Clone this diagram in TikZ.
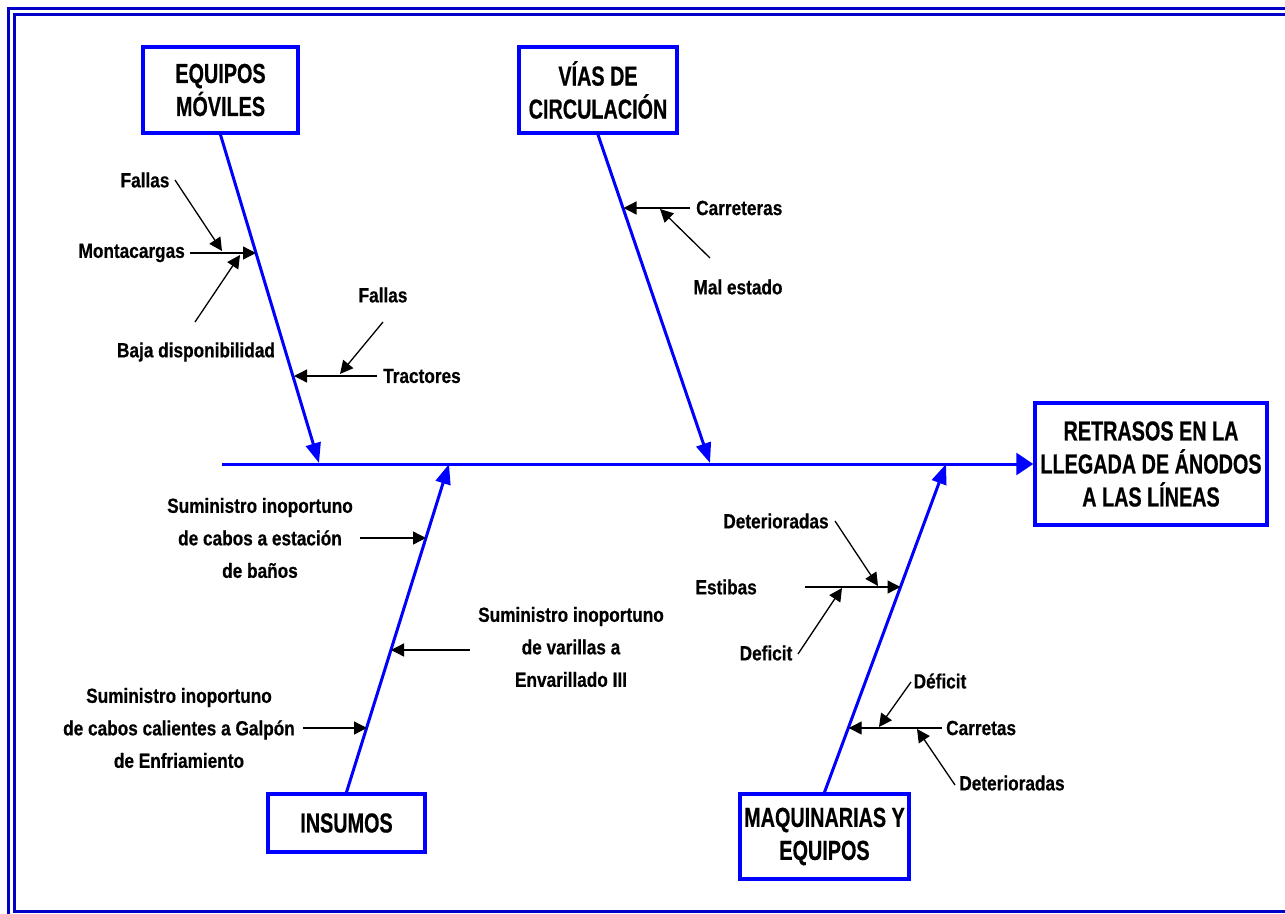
\documentclass[tikz,border=0pt]{standalone}
\usepackage{fontspec}
\setmainfont{Liberation Sans}[FakeStretch=0.84, BoldFeatures={FakeBold=0.5}]
\newfontfamily\ttlfont{Liberation Sans}[FakeStretch=0.72, BoldFeatures={FakeBold=0.5}]
\usetikzlibrary{arrows.meta}
\definecolor{bl}{RGB}{0,0,255}
\definecolor{frm}{RGB}{0,0,200}
\begin{document}
\begin{tikzpicture}[x=1pt,y=-1pt,
 lbl/.style={font=\fontsize{20.5}{32.5}\selectfont\bfseries, align=center, inner sep=0pt},
 ttl/.style={draw=bl, line width=3.5pt, font=\ttlfont\fontsize{27.5}{33}\selectfont\bfseries, align=center, inner sep=0pt},
 bone/.style={draw=bl, line width=3pt, -{Triangle[length=20pt,width=15pt]}},
 spine/.style={draw=bl, line width=3pt, -{Triangle[length=17pt,width=22pt]}},
 sub/.style={draw=black, line width=1.3pt, -{Triangle[length=13pt,width=13pt]}},
 frame/.style={draw=frm, line width=2.5pt},
]
\useasboundingbox (0,0) rectangle (1285,913);
\clip (0,0) rectangle (1285,913);
\draw[frame] (8.5,8.5) rectangle (1300,920);
\draw[frame] (14.5,14.5) rectangle (1292,911.5);

% boxes
\node[ttl, minimum width=155pt, minimum height=86pt] (eq) at (220.5,90) {EQUIPOS\\MÓVILES};
\node[ttl, minimum width=158pt, minimum height=86pt] (vias) at (598,90) {VÍAS DE\\CIRCULACIÓN};
\node[ttl, minimum width=232pt, minimum height=122pt] (ret) at (1151,464) {RETRASOS EN LA\\LLEGADA DE ÁNODOS\\A LAS LÍNEAS};
\node[ttl, minimum width=157pt, minimum height=58pt] (ins) at (346.5,823) {INSUMOS};
\node[ttl, minimum width=169pt, minimum height=85pt] (maq) at (824.5,836.5) {MAQUINARIAS Y\\EQUIPOS};

% spine and bones
\coordinate (s0) at (222,464);
\coordinate (t1) at (319,463);
\coordinate (t2) at (710,463);
\coordinate (t3) at (449,464);
\coordinate (t4) at (946,464);
\draw[spine] (s0) -- (ret.west);
\draw[bone] (eq.south) -- (t1);
\draw[bone] (vias.south) -- (t2);
\draw[bone] (ins.north) -- (t3);
\draw[bone] (maq.north) -- (t4);

% EQUIPOS MOVILES causes
\node[lbl] (fallas1) at (145,180) {Fallas};
\node[lbl, anchor=east] (mont) at (185,253) {Montacargas};
\node[lbl] (baja) at (196,352) {Baja disponibilidad};
\node[lbl] (fallas2) at (383,295) {Fallas};
\node[lbl, anchor=west] (tract) at (383,376) {Tractores};
\coordinate (mA) at (190,253); \coordinate (mB) at (256,253);
\coordinate (f1A) at (175,180); \coordinate (f1B) at (222,251);
\coordinate (bA) at (195,322); \coordinate (bB) at (240,255);
\coordinate (tA) at (377,376); \coordinate (tB) at (294,376);
\coordinate (f2A) at (383,322); \coordinate (f2B) at (340,374);
\draw[sub] (mA) -- (mB);
\draw[sub] (f1A) -- (f1B);
\draw[sub] (bA) -- (bB);
\draw[sub] (tA) -- (tB);
\draw[sub] (f2A) -- (f2B);

% VIAS causes
\node[lbl, anchor=west] (carre) at (696,208) {Carreteras};
\node[lbl] (mal) at (738,287) {Mal estado};
\coordinate (cA) at (690,208); \coordinate (cB) at (623.5,208);
\coordinate (malA) at (710,258); \coordinate (malB) at (660,209);
\draw[sub] (cA) -- (cB);
\draw[sub] (malA) -- (malB);

% INSUMOS causes
\node[lbl] (sum1) at (260,538) {Suministro inoportuno\\de cabos a estación\\de baños};
\node[lbl] (sum2) at (571,647) {Suministro inoportuno\\de varillas a\\Envarillado III};
\node[lbl] (sum3) at (179,728) {Suministro inoportuno\\de cabos calientes a Galpón\\de Enfriamiento};
\coordinate (s1A) at (360,538); \coordinate (s1B) at (426,538);
\coordinate (s2A) at (470,650); \coordinate (s2B) at (391,650);
\coordinate (s3A) at (303,728); \coordinate (s3B) at (367,728);
\draw[sub] (s1A) -- (s1B);
\draw[sub] (s2A) -- (s2B);
\draw[sub] (s3A) -- (s3B);

% MAQUINARIAS causes
\node[lbl] (det1) at (776,521) {Deterioradas};
\node[lbl, anchor=east] (estib) at (757,587) {Estibas};
\node[lbl] (defic) at (766,653) {Deficit};
\node[lbl] (defi2) at (940,681) {Déficit};
\node[lbl, anchor=west] (carret) at (946,728) {Carretas};
\node[lbl] (det2) at (1012,783) {Deterioradas};
\coordinate (eA) at (805,587); \coordinate (eB) at (900.5,587);
\coordinate (d1A) at (835,521); \coordinate (d1B) at (878,586);
\coordinate (dfA) at (798,654); \coordinate (dfB) at (842,588);
\coordinate (crA) at (942,728); \coordinate (crB) at (848.7,728);
\coordinate (d2A) at (911,682); \coordinate (d2B) at (879,727);
\coordinate (d3A) at (955,785); \coordinate (d3B) at (917,729);
\draw[sub] (eA) -- (eB);
\draw[sub] (d1A) -- (d1B);
\draw[sub] (dfA) -- (dfB);
\draw[sub] (crA) -- (crB);
\draw[sub] (d2A) -- (d2B);
\draw[sub] (d3A) -- (d3B);
\end{tikzpicture}
\end{document}
